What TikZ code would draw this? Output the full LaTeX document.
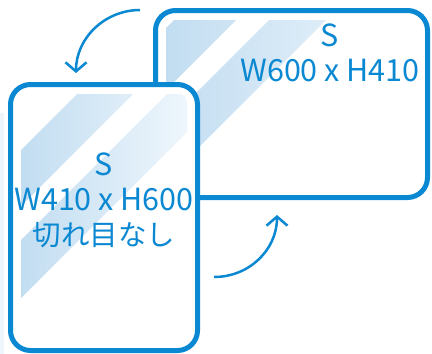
\documentclass[tikz,border=0pt]{standalone}
\usepackage{fontspec}
\setmainfont{Noto Sans CJK JP}
\usepackage{tikz}
\usetikzlibrary{arrows.meta,positioning,calc}
\definecolor{sblue}{HTML}{0A88D2}
\definecolor{glassL}{HTML}{C2DDF1}
\definecolor{glassR}{HTML}{EEF6FC}
\newcommand{\jpsize}{\fontsize{28.5pt}{35pt}\selectfont}
\tikzstyle{frame}=[draw=sblue,line width=5pt,fill=white,rounded corners=20pt]
\tikzstyle{sizetext}=[text=sblue,align=center,inner sep=0pt,font=\fontsize{30.5pt}{35pt}\selectfont]
\tikzstyle{turnarrow}=[draw=sblue,line width=2.5pt,-{Straight Barb[length=9pt,width=21pt]}]

\begin{document}
\begin{tikzpicture}[x=1pt,y=-1pt]
\useasboundingbox (0,0) rectangle (432,354);
% faint edge on the left
\fill[glassR] (0,113) rectangle (4,354);
% landscape sheet (back)
\path[frame] (155.5,10.5) rectangle (427.5,197.5);
\begin{scope}
	\clip[rounded corners=8pt] (166,20) rectangle (417,187);
	\clip (174,20) -- (236,20) -- (-164,420) -- (-226,420) -- cycle
	      (269,20) -- (326,20) -- (-74,420) -- (-131,420) -- cycle;
	\shade[left color=glassL,right color=glassR] (166,20) rectangle (417,187);
\end{scope}
\node [sizetext] (land) at (330,53) {S\\W600 x H410};
% portrait sheet (front)
\path[frame] (10.5,84.5) rectangle (197.5,350.5);
\begin{scope}
	\clip[rounded corners=8pt] (21,94) rectangle (187,340);
	\clip (77,94) -- (133,94) -- (-267,494) -- (-323,494) -- cycle
	      (167,94) -- (225,94) -- (-175,494) -- (-233,494) -- cycle;
	\shade[left color=glassL,right color=glassR] (21,94) rectangle (187,340);
\end{scope}
\node [sizetext] (port) at (104,200) {S\\W410 x H600\\{\jpsize 切れ目なし}};
% turning arrows
\coordinate (topstart) at (140,10);
\coordinate (topend) at (76,73);
\coordinate (lowstart) at (214,277);
\coordinate (lowend) at (277,215);
\draw[turnarrow] (topstart) .. controls +(-35,0) and +(0,-35) .. (topend);
\draw[turnarrow] (lowstart) .. controls +(35,0) and +(0,35) .. (lowend);
\end{tikzpicture}
\end{document}
